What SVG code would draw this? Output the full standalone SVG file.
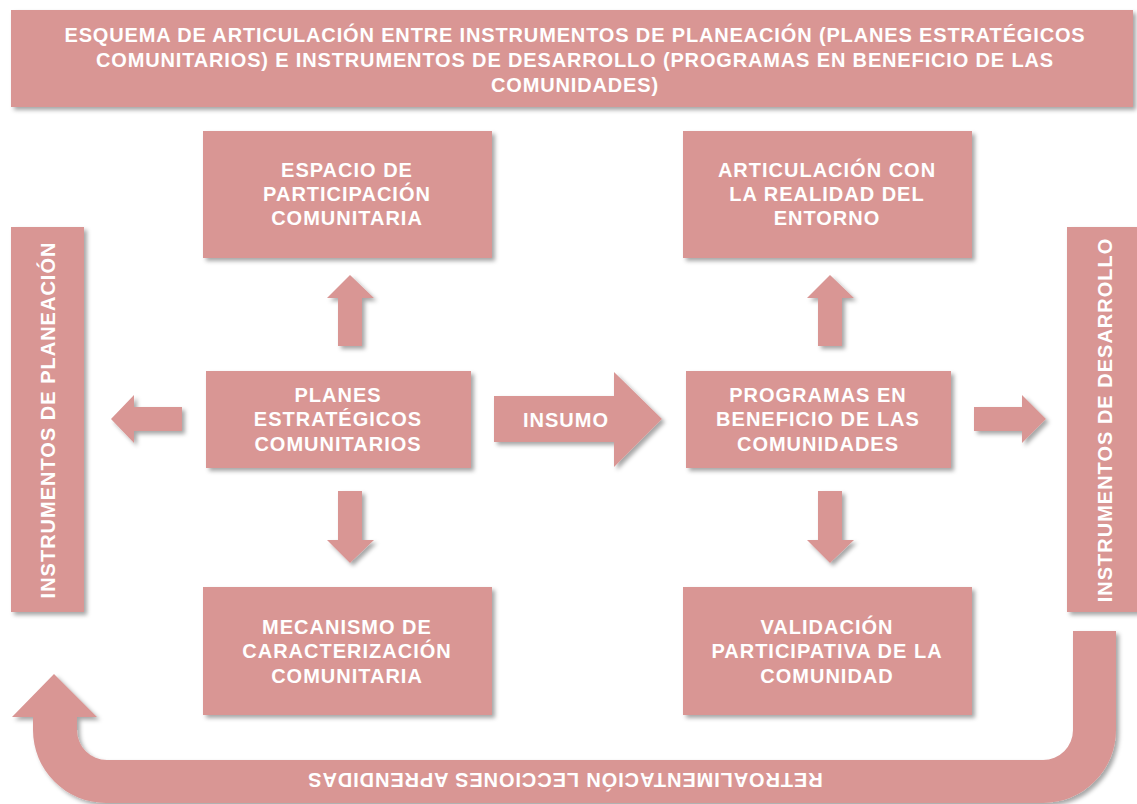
<svg xmlns="http://www.w3.org/2000/svg" width="1137" height="804" viewBox="0 0 1137 804">
<style>
.box{fill:#D99694;filter:url(#sh);}
.t{font-family:"Liberation Sans",Arial,sans-serif;font-weight:bold;fill:#FFFFFF;text-anchor:middle;font-size:20px;letter-spacing:1px;}
.tt{font-size:20px;letter-spacing:0.85px;}
.bar{font-size:20px;letter-spacing:1px;}
</style>
<defs>
<filter id="sh" x="-10%" y="-10%" width="130%" height="130%">
<feDropShadow dx="3" dy="3" stdDeviation="2" flood-color="#000" flood-opacity="0.35"/>
</filter>
</defs>
<rect width="1137" height="804" fill="#FFFFFF"/>

<g id="title">
<rect class="box" x="11" y="10" width="1122" height="97"/>
<text class="t tt" x="575" y="42">ESQUEMA DE ARTICULACIÓN ENTRE INSTRUMENTOS DE PLANEACIÓN (PLANES ESTRATÉGICOS</text>
<text class="t tt" x="575" y="67">COMUNITARIOS) E INSTRUMENTOS DE DESARROLLO (PROGRAMAS EN BENEFICIO DE LAS</text>
<text class="t tt" x="575" y="92">COMUNIDADES)</text>
</g>

<g id="connectors">
<path class="box" d="M338,346 V298 H327 L350,275 L374,298 H362 V346 Z"/>
<path class="box" d="M338,491 V540 H327 L350,563 L374,540 H362 V491 Z"/>
<path class="box" d="M818,346 V298 H807 L830,275 L854,298 H842 V346 Z"/>
<path class="box" d="M818,491 V540 H807 L830,563 L854,540 H842 V491 Z"/>
<path class="box" d="M182,407 H134 V395 L111,419 L134,443 V431 H182 Z"/>
<path class="box" d="M974,407 H1022 V395 L1046,419 L1022,443 V431 H974 Z"/>
<g id="insumo">
<path class="box" d="M494,396 H614 V372 L662,419 L614,467 V442 H494 Z"/>
<text class="t" x="566" y="427">INSUMO</text>
</g>
<g id="retroalimentacion">
<path class="box" d="M1116,631 V730 A73,73 0 0 1 1043,803 H106 A73,73 0 0 1 33,730 V717 H12 L54,674 L97,717 H77 V730 A30,30 0 0 0 107,760 H1043 A30,30 0 0 0 1073,730 V631 Z"/>
<text class="t" transform="translate(565,773) rotate(180)" x="0" y="0" style="letter-spacing:0.9px">RETROALIMENTACIÓN LECCIONES APRENDIDAS</text>
</g>
</g>

<g id="instrumentos-planeacion">
<rect class="box" x="11" y="227" width="73" height="385"/>
<text class="t bar" transform="translate(55,420) rotate(-90)">INSTRUMENTOS DE PLANEACIÓN</text>
</g>
<g id="instrumentos-desarrollo">
<rect class="box" x="1067" y="227" width="75" height="385"/>
<text class="t bar" transform="translate(1112,420) rotate(-90)">INSTRUMENTOS DE DESARROLLO</text>
</g>

<g id="espacio">
<rect class="box" x="203" y="131" width="289" height="127"/>
<text class="t" x="347" y="177">ESPACIO DE</text>
<text class="t" x="347" y="201">PARTICIPACIÓN</text>
<text class="t" x="347" y="225">COMUNITARIA</text>
</g>
<g id="articulacion">
<rect class="box" x="683" y="131" width="289" height="127"/>
<text class="t" x="827" y="177">ARTICULACIÓN CON</text>
<text class="t" x="827" y="201">LA REALIDAD DEL</text>
<text class="t" x="827" y="225">ENTORNO</text>
</g>
<g id="planes">
<rect class="box" x="206" y="371" width="265" height="97"/>
<text class="t" x="338" y="402">PLANES</text>
<text class="t" x="338" y="426">ESTRATÉGICOS</text>
<text class="t" x="338" y="451">COMUNITARIOS</text>
</g>
<g id="programas">
<rect class="box" x="686" y="371" width="265" height="97"/>
<text class="t" x="818" y="402">PROGRAMAS EN</text>
<text class="t" x="818" y="426">BENEFICIO DE LAS</text>
<text class="t" x="818" y="451">COMUNIDADES</text>
</g>
<g id="mecanismo">
<rect class="box" x="203" y="587" width="289" height="128"/>
<text class="t" x="347" y="634">MECANISMO DE</text>
<text class="t" x="347" y="658">CARACTERIZACIÓN</text>
<text class="t" x="347" y="683">COMUNITARIA</text>
</g>
<g id="validacion">
<rect class="box" x="683" y="587" width="289" height="128"/>
<text class="t" x="827" y="634">VALIDACIÓN</text>
<text class="t" x="827" y="658">PARTICIPATIVA DE LA</text>
<text class="t" x="827" y="683">COMUNIDAD</text>
</g>
</svg>
